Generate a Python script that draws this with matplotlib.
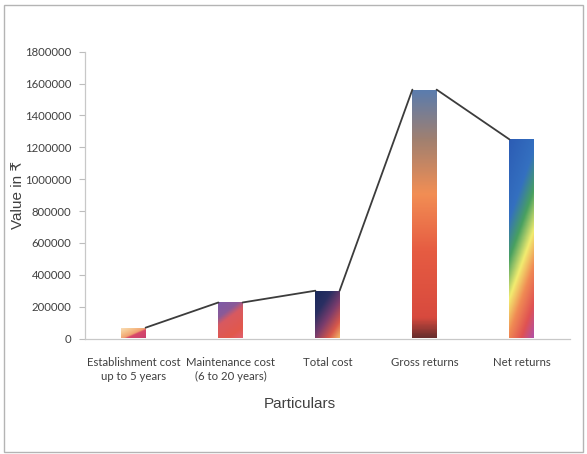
import numpy as np
import matplotlib
matplotlib.use("Agg")
import matplotlib.pyplot as plt
from matplotlib.colors import LinearSegmentedColormap
from matplotlib.patches import Rectangle

# Cost and return components (in rupees)
categories = ["Establishment cost\nup to 5 years", "Maintenance cost\n(6 to 20 years)",
              "Total cost", "Gross returns", "Net returns"]
values = [68000, 226000, 300000, 1562000, 1250000]
yticks = [0, 200000, 400000, 600000, 800000, 1000000, 1200000, 1400000, 1600000, 1800000]

# Gradient styles for each bar: (position, colour) stops and direction weights
fills = [
    ([(0, "#f9e2c0"), (0.3, "#f6c48e"), (0.55, "#f0a070"), (0.62, "#d8486a"), (1, "#c84070")], (0.9, 0.9)),
    ([(0, "#7c5aa8"), (0.3, "#8a5a98"), (0.45, "#d85a60"), (0.8, "#e2584c"), (1, "#e06070")], (0.45, 0.9)),
    ([(0, "#18285a"), (0.3, "#2a2f62"), (0.55, "#7a3c6c"), (0.8, "#d8584a"), (1, "#f4b868")], (0.7, 0.9)),
    ([(0, "#5a7cae"), (0.2, "#a08070"), (0.42, "#f28e54"), (0.65, "#e65c42"), (0.92, "#d84a3e"),
      (1, "#6a2e2e")], (0.0, 1.0)),
    ([(0, "#2c5cb4"), (0.3, "#3470c0"), (0.45, "#48a060"), (0.6, "#f2ec70"), (0.73, "#f08a54"),
      (0.87, "#e05252"), (1, "#b050a8")], (0.35, 1.0)),
]

W, H = 587, 454
fig = plt.figure(figsize=(W / 100, H / 100), dpi=100)
fig.patch.set_facecolor("white")

# outer chart frame
fig.add_artist(Rectangle((4 / W, 1 - 452 / H), 579 / W, 447 / H, transform=fig.transFigure,
                         fill=False, edgecolor="#b4b4b4", linewidth=1.0))

ax = fig.add_axes([85 / W, 1 - 338.5 / H, 485 / W, 286.8 / H])

width = 0.25
x = np.arange(len(categories))
bars = ax.bar(x, values, width=width, color="none", edgecolor="none", zorder=2)

n = 200
uu, vv = np.meshgrid(np.linspace(0, 1, n), np.linspace(0, 1, n))  # vv: 0 at top
for bar, (stops, (wu, wv)) in zip(bars, fills):
    cmap = LinearSegmentedColormap.from_list("g", stops)
    t = (wu * uu + wv * vv) / (wu + wv)
    x0, y0 = bar.get_x(), bar.get_y()
    bw, bh = bar.get_width(), bar.get_height()
    im = ax.imshow(t, cmap=cmap, vmin=0, vmax=1, extent=[x0, x0 + bw, y0, y0 + bh],
                   origin="upper", aspect="auto", zorder=2, interpolation="bilinear")
    im.set_clip_path(bar)

# series lines joining neighbouring bar tops
for i in range(len(values) - 1):
    ax.plot([x[i] + width / 2, x[i + 1] - width / 2], [values[i], values[i + 1]],
            color="#3c3c3c", linewidth=1.3, zorder=3, solid_capstyle="round")

ax.set_xlim(-0.5, len(categories) - 0.5)
ax.set_ylim(0, 1800000)

tick_font = ["Lato", "DejaVu Sans"]
ax.set_yticks(yticks)
ax.set_yticklabels([str(v) for v in yticks], family=tick_font, fontsize=8.2, color="#404040")
ax.set_xticks(x)
ax.set_xticklabels(categories, family=tick_font, fontsize=8.2, color="#404040", linespacing=1.4)
ax.tick_params(axis="y", direction="out", length=4, width=0.8, color="#bdbdbd", pad=6)
ax.tick_params(axis="x", length=0, pad=13)

for side in ["top", "right"]:
    ax.spines[side].set_visible(False)
for side in ["left", "bottom"]:
    ax.spines[side].set_color("#c8c8c8")
    ax.spines[side].set_linewidth(0.9)

label_font = ["Liberation Sans", "DejaVu Sans"]
ax.set_ylabel("Value in ₹", family=label_font, fontsize=11, color="#404040")
ax.yaxis.set_label_coords((25 - 85) / 485, 0.5)
ax.set_xlabel("Particulars", family=label_font, fontsize=11, color="#404040")
ax.xaxis.set_label_coords((300 - 85) / 485, -(397 - 338.5) / 286.8)

fig.savefig("out.png", dpi=100, facecolor="white")
